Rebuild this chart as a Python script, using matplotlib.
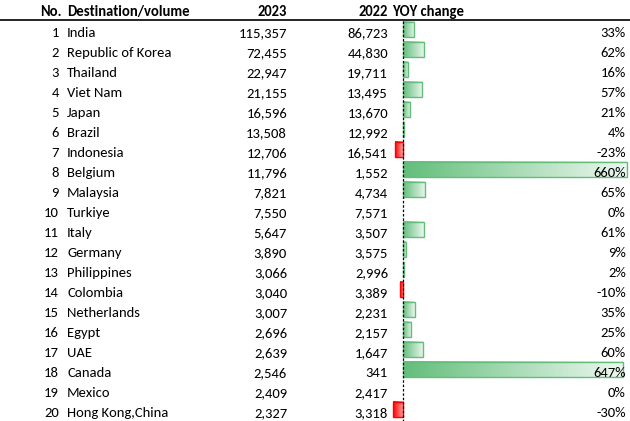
import matplotlib
matplotlib.use("Agg")
import matplotlib.pyplot as plt
import numpy as np
from matplotlib.colors import LinearSegmentedColormap
from matplotlib.patches import Rectangle

plt.rcParams["font.family"] = ["Carlito", "Lato", "DejaVu Sans"]

# table data
ranks = list(range(1, 21))
destinations = [
    "India", "Republic of Korea", "Thailand", "Viet Nam", "Japan", "Brazil",
    "Indonesia", "Belgium", "Malaysia", "Turkiye", "Italy", "Germany",
    "Philippines", "Colombia", "Netherlands", "Egypt", "UAE", "Canada",
    "Mexico", "Hong Kong,China",
]
vol_2023 = [115357, 72455, 22947, 21155, 16596, 13508, 12706, 11796, 7821, 7550,
            5647, 3890, 3066, 3040, 3007, 2696, 2639, 2546, 2409, 2327]
vol_2022 = [86723, 44830, 19711, 13495, 13670, 12992, 16541, 1552, 4734, 7571,
            3507, 3575, 2996, 3389, 2231, 2157, 1647, 341, 2417, 3318]
yoy_pct = [33, 62, 16, 57, 21, 4, -23, 660, 65, 0,
           61, 9, 2, -10, 35, 25, 60, 647, 0, -30]

W, H = 630, 421
fig = plt.figure(figsize=(W / 100, H / 100), dpi=100)

# main axes: x in pixels, y in rows (row i spans i..i+1)
row_h = 20
top_px = 21
y_top = -top_px / row_h
y_bot = (H - top_px) / row_h
ax = fig.add_axes([0, 0, 1, 1])
ax.set_xlim(0, W)
ax.set_ylim(y_bot, y_top)
ax.axis("off")
ax.set_zorder(3)
ax.patch.set_visible(False)

# bar axes: x in percent, zero at 403px, 660% at 627px
x0_px, x660_px, bx_left = 403, 627, 380
scale = (x660_px - x0_px) / 660
bx = fig.add_axes([bx_left / W, 0, (W - bx_left) / W, 1])
bx.set_xlim(-(x0_px - bx_left) / scale, (W - x0_px) / scale)
bx.set_ylim(y_bot, y_top)
bx.axis("off")

fs = 10.5
hy = -0.25  # header baseline
ax.text(62, hy, "No.", ha="right", va="baseline", fontsize=fs, fontweight="bold")
ax.text(67, hy, "Destination/volume", ha="left", va="baseline", fontsize=fs, fontweight="bold")
ax.text(287, hy, "2023", ha="right", va="baseline", fontsize=fs, fontweight="bold")
ax.text(388, hy, "2022", ha="right", va="baseline", fontsize=fs, fontweight="bold")
ax.text(392, hy, "YOY change", ha="left", va="baseline", fontsize=fs, fontweight="bold")
ax.plot([0, W], [-0.03, -0.03], color="black", lw=1.2, solid_capstyle="butt")

green = LinearSegmentedColormap.from_list("g", ["#63BE7B", "#FFFFFF"])
red = LinearSegmentedColormap.from_list("r", ["#FF0000", "#FFFFFF"])
grad = np.linspace(0, 0.88, 256).reshape(1, -1)

for i in range(len(ranks)):
    base = i + 0.8
    ax.text(59, base, str(ranks[i]), ha="right", va="baseline", fontsize=fs)
    ax.text(67, base, destinations[i], ha="left", va="baseline", fontsize=fs)
    ax.text(287, base, f"{vol_2023[i]:,}", ha="right", va="baseline", fontsize=fs)
    ax.text(388, base, f"{vol_2022[i]:,}", ha="right", va="baseline", fontsize=fs)
    ax.text(626, base, f"{yoy_pct[i]}%", ha="right", va="baseline", fontsize=fs)

    v = yoy_pct[i]
    if v == 0:
        continue
    b0, b1 = i + 0.04, i + 0.82
    if v > 0:
        bx.imshow(grad, cmap=green, vmin=0, vmax=1, aspect="auto",
                  extent=[0, v, b1, b0], interpolation="bilinear", zorder=1)
        edge = "#63BE7B"
    else:
        bx.imshow(grad * 0.75, cmap=red, vmin=0, vmax=1, aspect="auto",
                  extent=[v, 0, b1, b0], interpolation="bilinear", zorder=1)
        edge = "#FF0000"
    bx.add_patch(Rectangle((min(v, 0), b0), abs(v), b1 - b0, fill=False,
                           edgecolor=edge, lw=1.0, zorder=2))

bx.set_xlim(-(x0_px - bx_left) / scale, (W - x0_px) / scale)
bx.set_ylim(y_bot, y_top)
bx.plot([0, 0], [0, y_bot], color="black", lw=0.9, ls=(0, (2, 1.5)), zorder=3)

fig.savefig("out.png", dpi=100)
